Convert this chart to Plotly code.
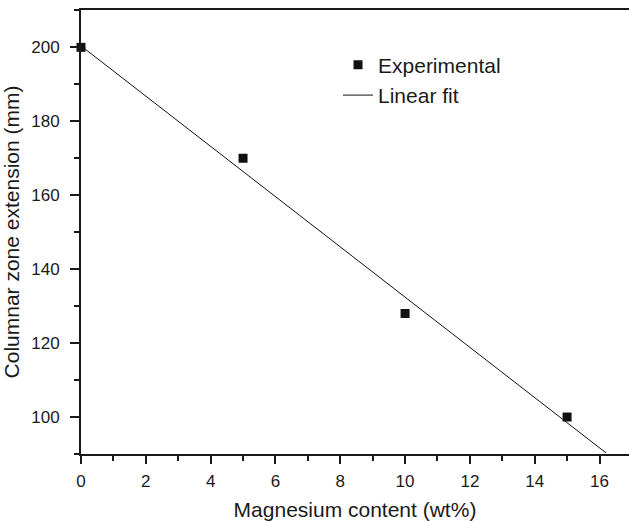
import plotly.graph_objects as go

# Measured columnar zone extension vs. magnesium content
mg_content = [0, 5, 10, 15]
zone_extension = [200, 170, 128, 100]

# Linear fit line endpoints
fit_x = [0, 16.2]
fit_y = [200.4, 90.3]

x_ticks = [0, 2, 4, 6, 8, 10, 12, 14, 16]
y_ticks = [100, 120, 140, 160, 180, 200]

font_family = "Liberation Sans, Arial, Helvetica, sans-serif"
ink = "#1a1a1a"

fig = go.Figure()

fig.add_trace(go.Scatter(
    x=mg_content, y=zone_extension,
    mode="markers", name="Experimental",
    marker=dict(symbol="square", size=9, color="#111111"),
    cliponaxis=False,
))

fig.add_trace(go.Scatter(
    x=fit_x, y=fit_y,
    mode="lines", name="Linear fit",
    line=dict(color="#111111", width=1),
))

fig.update_layout(
    width=629, height=521,
    margin=dict(l=81, r=0, t=10, b=67),
    paper_bgcolor="white", plot_bgcolor="white",
    font=dict(family=font_family, size=17, color=ink),
    showlegend=True,
    legend=dict(
        x=0.469, y=0.922, xanchor="left", yanchor="top",
        bgcolor="rgba(0,0,0,0)",
        font=dict(size=21, color=ink),
        tracegroupgap=0,
    ),
)

fig.update_xaxes(
    range=[0, 16.91],
    tickvals=x_ticks,
    ticks="outside", ticklen=8, tickwidth=1.5, tickcolor=ink,
    minor=dict(dtick=1, ticks="outside", ticklen=5, tickwidth=1.5, tickcolor=ink),
    showline=True, linecolor=ink, linewidth=2, mirror=True,
    showgrid=False, zeroline=False,
    ticklabelstandoff=3,
    title=dict(text="Magnesium content (wt%)", font=dict(size=21, color=ink), standoff=12),
    tickfont=dict(size=17, color=ink),
)

fig.update_yaxes(
    range=[90, 210.1],
    tickvals=y_ticks,
    ticks="outside", ticklen=9, tickwidth=1.5, tickcolor=ink,
    minor=dict(dtick=10, ticks="outside", ticklen=5, tickwidth=1.5, tickcolor=ink),
    showline=True, linecolor=ink, linewidth=2, mirror=False,
    showgrid=False, zeroline=False,
    ticklabelstandoff=7,
    title=dict(text="Columnar zone extension (mm)", font=dict(size=21, color=ink), standoff=6),
    tickfont=dict(size=17, color=ink),
)

fig.write_html("out.html")
